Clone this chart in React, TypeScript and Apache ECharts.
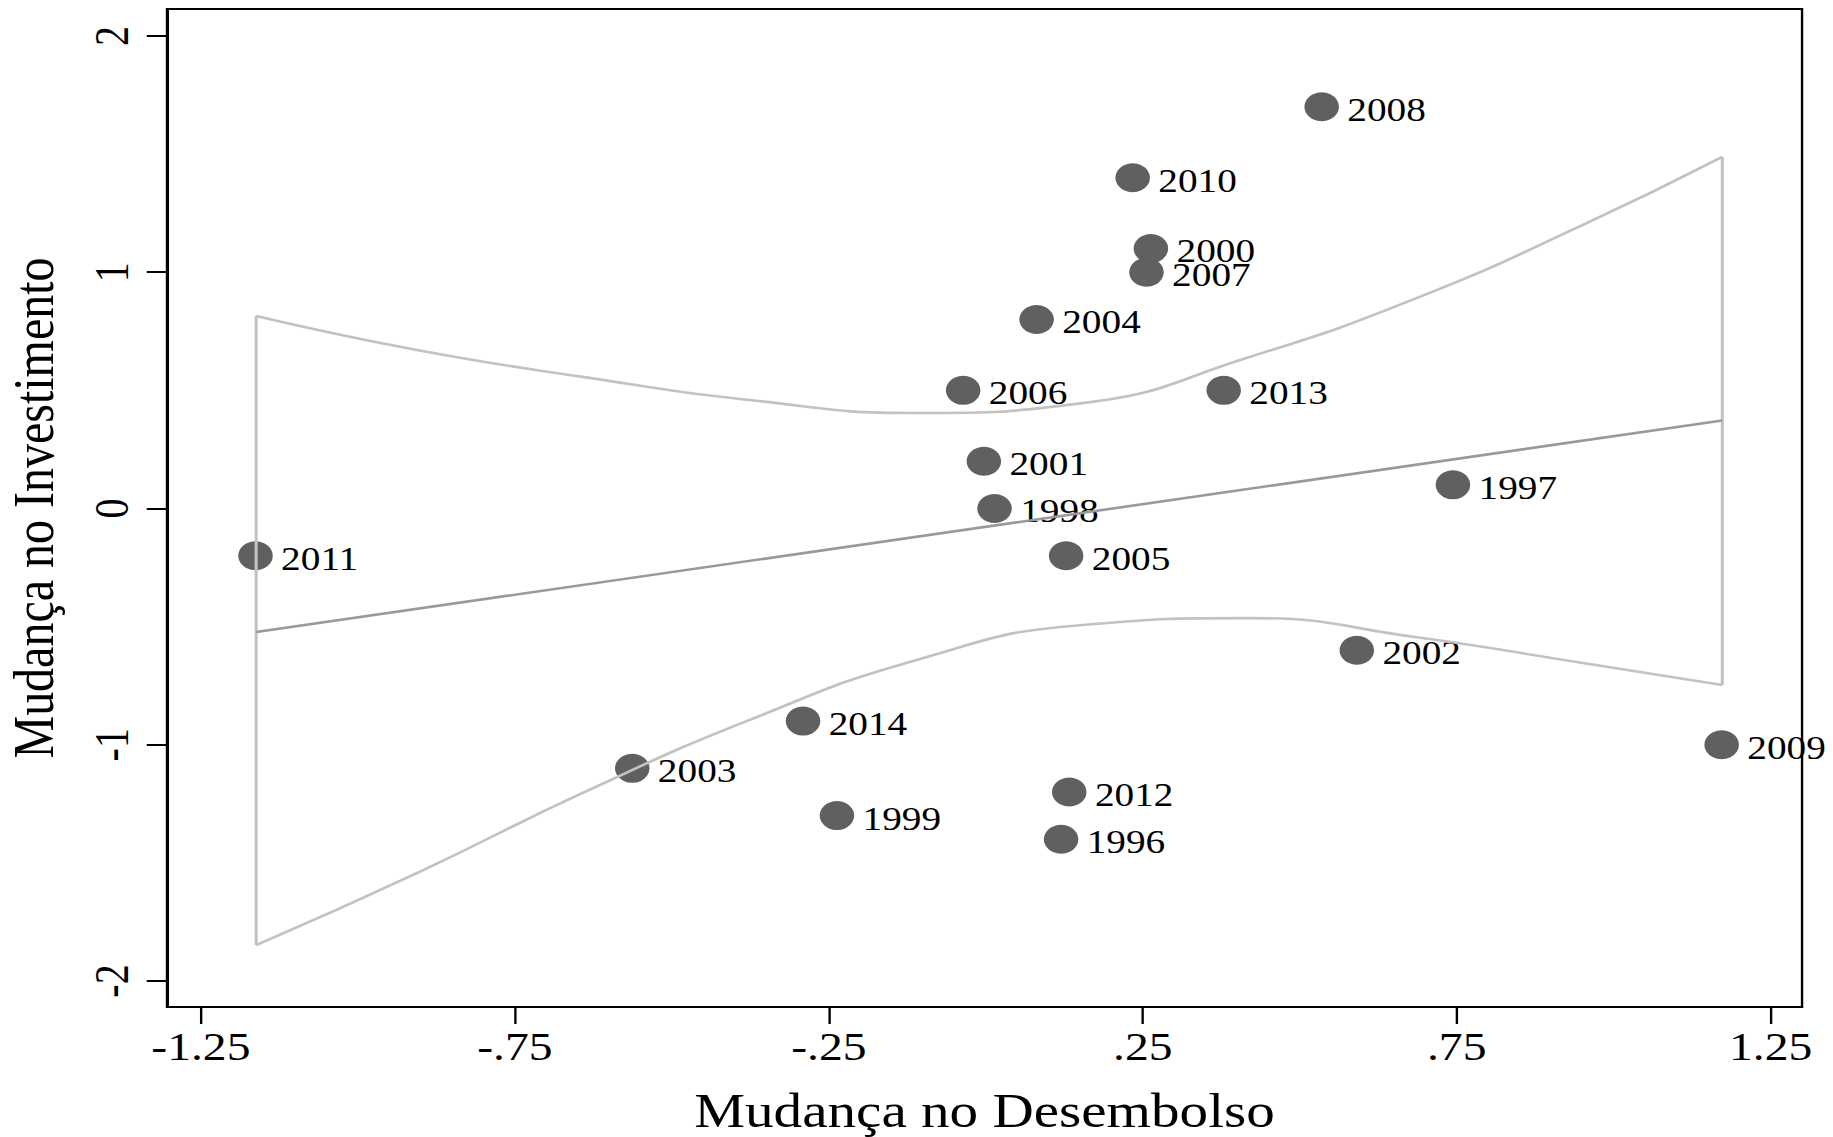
import React, { useEffect, useRef } from "react";
import * as echarts from "echarts";

// ---- data ----
const years = ["1996", "1997", "1998", "1999", "2000", "2001", "2002", "2003", "2004", "2005", "2006", "2007", "2008", "2009", "2010", "2011", "2012", "2013", "2014"];
const desembolso = [0.12, 0.744, 0.014, -0.237, 0.263, -0.003, 0.591, -0.563, 0.081, 0.128, -0.036, 0.256, 0.535, 1.172, 0.234, -1.163, 0.133, 0.379, -0.291];
const investimento = [-1.4, 0.1, 0.0, -1.3, 1.1, 0.2, -0.6, -1.1, 0.8, -0.2, 0.5, 1.0, 1.7, -1.0, 1.4, -0.2, -1.2, 0.5, -0.9];

// fitted line end points and confidence band
const fitX = [-1.162, 1.173];
const fitY = [-0.523, 0.372];
const bandX = [-1.162, -0.906, -0.642, -0.376, -0.11, 0.154, 0.42, 0.686, 0.951, 1.173];
const bandUpper = [0.815, 0.671, 0.557, 0.459, 0.404, 0.446, 0.641, 0.89, 1.2, 1.488];
const bandLower = [-1.848, -1.543, -1.204, -0.895, -0.641, -0.493, -0.464, -0.545, -0.654, -0.747];

const xTicks = [-1.25, -0.75, -0.25, 0.25, 0.75, 1.25];
const yTicks = [-2, -1, 0, 1, 2];

const xTitle = "Mudança no Desembolso";
const yTitle = "Mudança no Investimento";

const BASE_W = 1540;
const H = 1137;
const SX = 1833 / BASE_W;
const FONT = "'Liberation Serif', 'Times New Roman', serif";

const fmt = (v: number) => String(v).replace("0.", ".");

export default function App() {
  const ref = useRef<HTMLDivElement>(null);
  useEffect(() => {
    if (!ref.current) return;
    const chart = echarts.init(ref.current, null, { renderer: "svg" });
    const pts = years.map((y, i) => ({ name: y, value: [desembolso[i], investimento[i]] }));
    const upper = bandX.map((x, i) => [x, bandUpper[i]]);
    const lower = bandX.map((x, i) => [x, bandLower[i]]);
    const n = bandX.length - 1;
    const lineBase = { type: "line", showSymbol: false, symbol: "none", silent: true };
    const bandStyle = { color: "#c2c2c2", width: 2.6 };
    chart.setOption({
      animation: false,
      backgroundColor: "#ffffff",
      textStyle: { fontFamily: FONT },
      grid: {
        left: 140.3,
        right: 26,
        top: 9,
        bottom: 130,
        containLabel: false,
        outerBoundsMode: "none",
        show: true,
        borderColor: "#000",
        borderWidth: 2,
        backgroundColor: "#fff",
      },
      xAxis: {
        type: "value",
        min: -1.304,
        max: 1.3,
        name: xTitle,
        nameLocation: "middle",
        nameGap: 80,
        nameTextStyle: { fontFamily: FONT, fontSize: 48, color: "#000" },
        axisLine: { show: true, onZero: false, lineStyle: { color: "#000", width: 2 } },
        axisTick: { show: true, length: 17, customValues: xTicks, lineStyle: { color: "#000", width: 2 } },
        axisLabel: { customValues: xTicks, formatter: (v: number) => fmt(v), fontFamily: FONT, fontSize: 40, color: "#000", margin: 20 },
        splitLine: { show: false },
      },
      yAxis: {
        type: "value",
        min: -2.11,
        max: 2.114,
        name: yTitle,
        nameLocation: "middle",
        nameGap: 88,
        nameTextStyle: { fontFamily: FONT, fontSize: 48, color: "#000" },
        axisLine: { show: true, onZero: false, lineStyle: { color: "#000", width: 2 } },
        axisTick: { show: true, length: 17, customValues: yTicks, lineStyle: { color: "#000", width: 2 } },
        axisLabel: { customValues: yTicks, rotate: 90, fontFamily: FONT, fontSize: 40, color: "#000", margin: 26 },
        splitLine: { show: false },
      },
      series: [
        {
          type: "scatter",
          data: pts,
          symbol: "circle",
          symbolSize: 29,
          itemStyle: { color: "#606060", opacity: 1 },
          label: {
            show: true,
            position: "right",
            distance: 7,
            offset: [0, 3],
            formatter: "{b}",
            fontFamily: FONT,
            fontSize: 33,
            color: "#000",
          },
          z: 1,
        },
        {
          ...lineBase,
          data: upper,
          smooth: 0.5,
          lineStyle: bandStyle,
          z: 2,
        },
        {
          ...lineBase,
          data: lower,
          smooth: 0.5,
          lineStyle: bandStyle,
          z: 2,
        },
        {
          ...lineBase,
          data: [upper[0], lower[0]],
          lineStyle: bandStyle,
          z: 2,
        },
        {
          ...lineBase,
          data: [upper[n], lower[n]],
          lineStyle: bandStyle,
          z: 2,
        },
        {
          ...lineBase,
          data: fitX.map((x, i) => [x, fitY[i]]),
          lineStyle: { color: "#999999", width: 2.6 },
          z: 3,
        },
      ],
    });
    return () => chart.dispose();
  }, []);
  return (
    <div
      ref={ref}
      style={{
        position: "absolute",
        left: 0,
        top: 0,
        width: BASE_W + "px",
        height: H + "px",
        transform: `scaleX(${SX})`,
        transformOrigin: "0 0",
      }}
    />
  );
}
